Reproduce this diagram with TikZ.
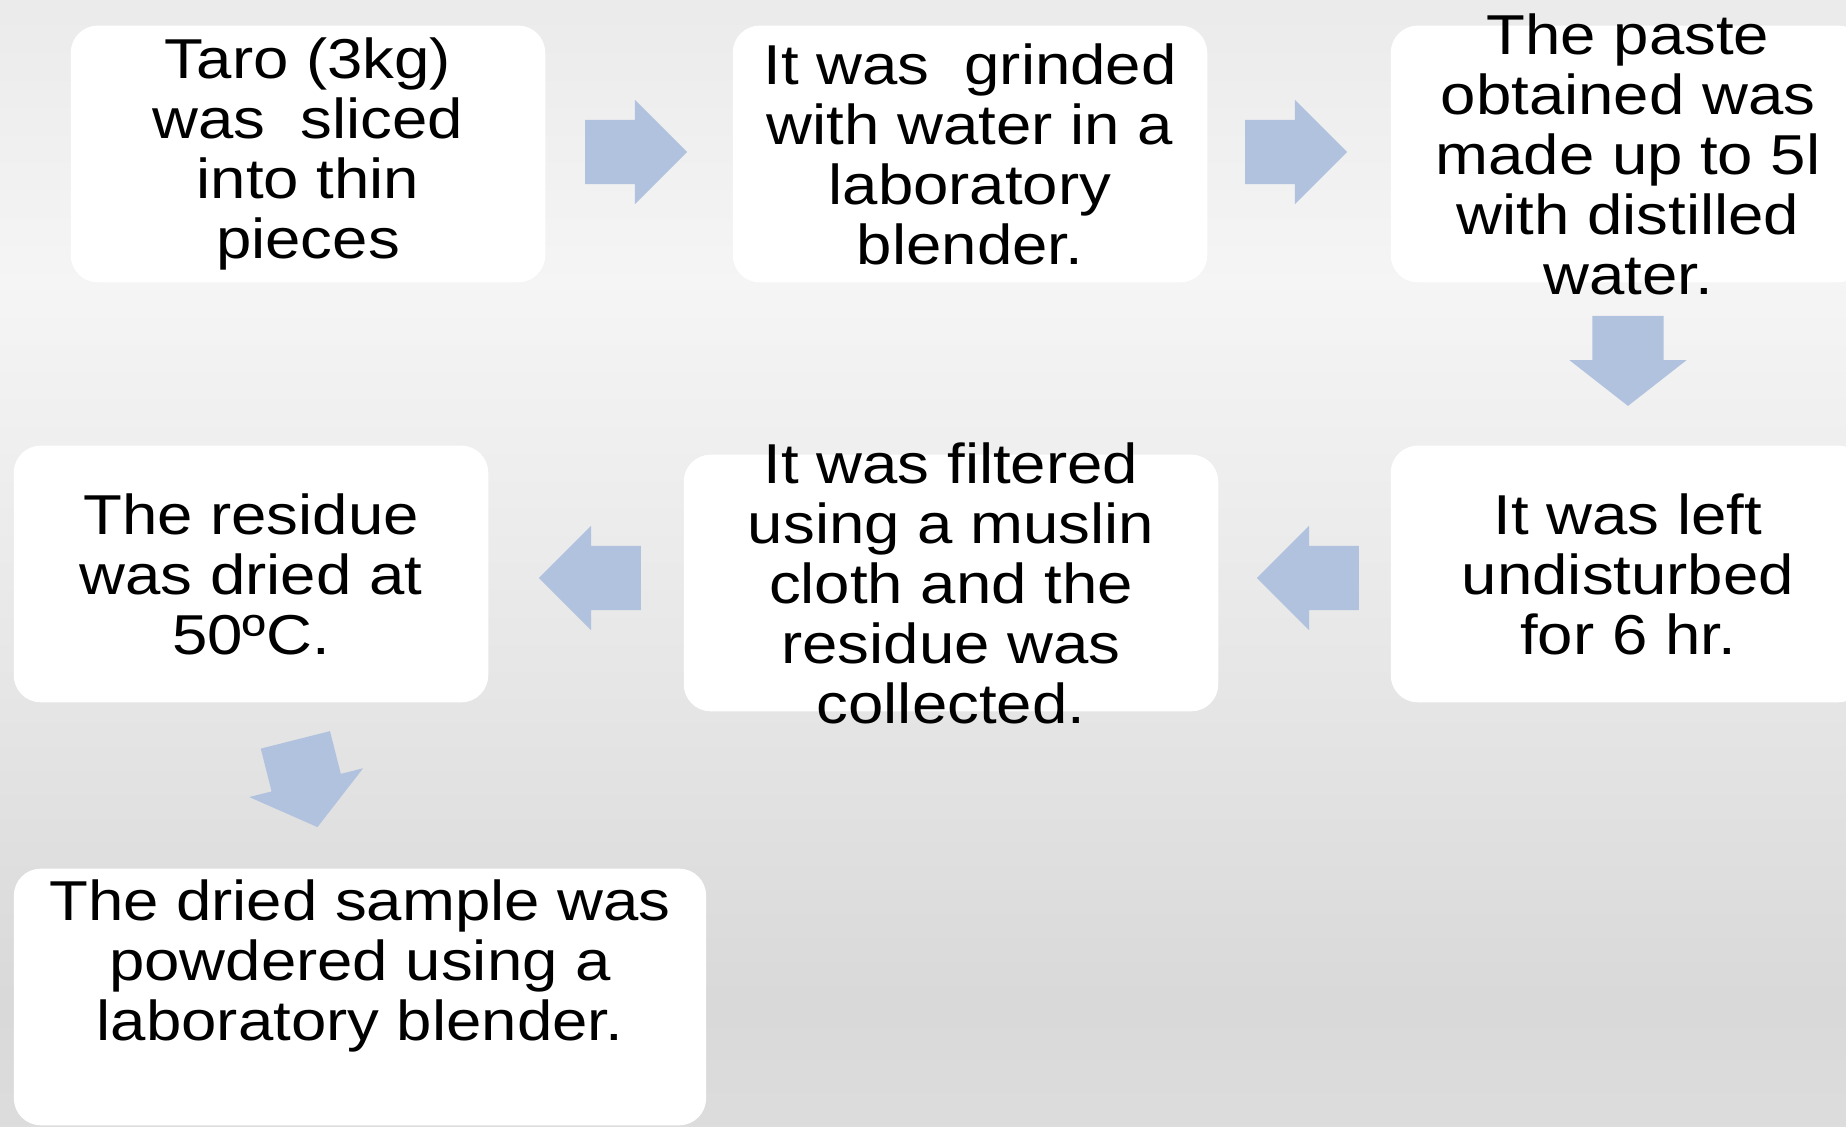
\documentclass[tikz,border=0pt]{standalone}
\usepackage{fontspec}
\usetikzlibrary{shapes.arrows}

\newfontfamily\boxfont[FakeStretch=1.13]{Liberation Sans}
\definecolor{arrowblue}{RGB}{176,194,222}
\definecolor{bgA}{gray}{0.865}
\definecolor{bgB}{gray}{0.85}
\definecolor{bgC}{gray}{0.90}
\definecolor{bgD}{gray}{0.96}
\definecolor{bgE}{gray}{0.92}
% tikz stretches the middle 50bp of a shading over the path
\pgfdeclareverticalshading{pagebg}{100bp}{color(0bp)=(bgA); color(25bp)=(bgA);
  color(30.5bp)=(bgB); color(44bp)=(bgC); color(62.5bp)=(bgD); color(75bp)=(bgE);
  color(100bp)=(bgE)}

\tikzstyle{stage} = [rectangle, rounded corners=0.27cm, minimum width=4.745cm,
minimum height=2.567cm, inner xsep=0pt, inner ysep=-0.5cm, align=center,
fill=white, font=\boxfont\fontsize{16}{17.07}\selectfont]
\tikzstyle{harrow} = [single arrow, fill=arrowblue, inner xsep=0pt, inner ysep=0.315cm,
minimum height=1.02cm, minimum width=1.03cm, single arrow head extend=0.2cm,
single arrow tip angle=90]
\tikzstyle{varrow} = [single arrow, fill=arrowblue, inner xsep=0pt, inner ysep=0.35cm,
minimum height=0.9cm, minimum width=1.16cm, single arrow head extend=0.23cm,
single arrow tip angle=104]

\begin{document}
\begin{tikzpicture}
    \useasboundingbox (0,0) rectangle (18.46,11.27);
    \fill [shading=pagebg] (0,0) rectangle (18.46,11.27);

    \node (taro) [stage] at (3.08,9.73) {Taro (3kg)\\ was~ sliced\\ into thin\\ pieces};
    \node (ar1) [harrow, right of=taro, xshift=2.12cm, yshift=0.02cm] {};
    \node (grind) [stage, right of=ar1, xshift=2.5cm, yshift=-0.02cm] {It was~ grinded\\ with water in a\\ laboratory\\ blender.};
    \node (ar2) [harrow, right of=grind, xshift=2.1cm, yshift=0.02cm] {};
    \node (paste) [stage, right of=ar2, xshift=2.48cm, yshift=-0.02cm] {The paste\\ obtained was\\ made up to 5l\\ with distilled\\ water.};
    \node (ar3) [varrow, below of=paste, yshift=-0.93cm, rotate=270] {};
    \node (settle) [stage, below of=ar3, yshift=-1.27cm] {It was left\\ undisturbed\\ for 6 hr.};
    \node (ar4) [harrow, left of=settle, xshift=-2.04cm, yshift=-0.04cm, rotate=180] {};
    \node (filter) [stage, minimum width=5.345cm, left of=ar4, xshift=-2.73cm, yshift=-0.05cm] {It was filtered\\ using a muslin\\ cloth and the\\ residue was\\ collected.};
    \node (ar5) [harrow, left of=filter, xshift=-2.45cm, yshift=0.05cm, rotate=180] {};
    \node (residue) [stage, left of=ar5, xshift=-2.55cm, yshift=0.04cm] {The residue\\ was dried at\\ 50ºC.};
    \node (ar6) [varrow, below of=residue, xshift=0.52cm, yshift=-0.96cm, rotate=-75.8] {};
    \node (powder) [stage, minimum width=6.923cm, below of=ar6, xshift=0.57cm, yshift=-1.27cm] {The dried sample was\\ powdered using a\\ laboratory blender.\\[4pt] ~};
  \end{tikzpicture}
\end{document}
